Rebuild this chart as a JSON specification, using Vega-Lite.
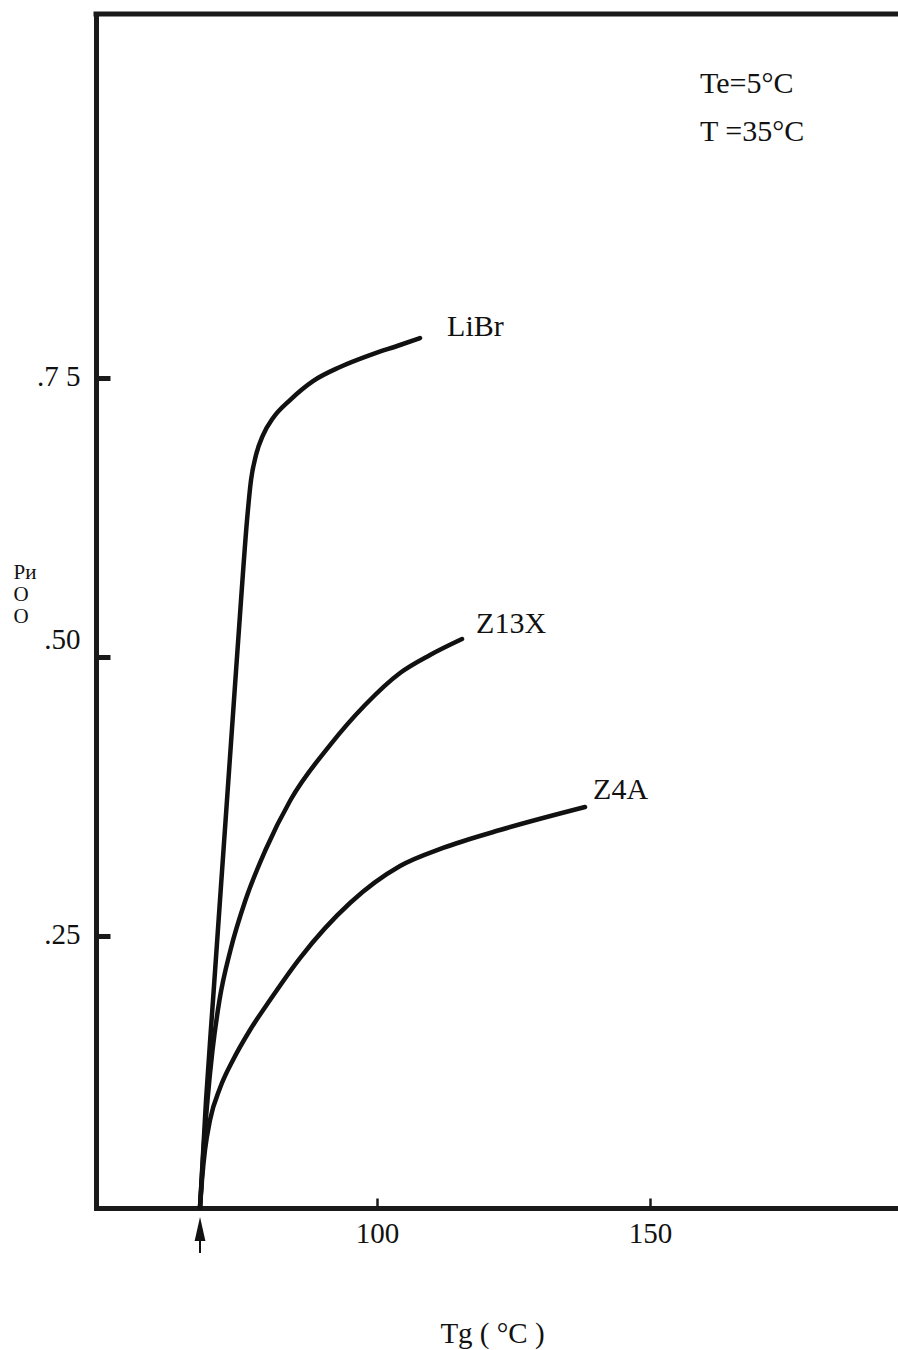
{
  "$schema": "https://vega.github.io/schema/vega-lite/v6.json",
  "width": 802,
  "height": 1194,
  "autosize": {"type": "none"},
  "padding": {"left": 96, "top": 14, "right": 0, "bottom": 142},
  "background": "white",
  "config": {"view": {"stroke": null}, "font": "Liberation Serif", "axis": {"grid": false}},
  "datasets": {
    "curves": [
      {"series": "LiBr", "tg": 67.58, "p": 0.007},
      {"series": "LiBr", "tg": 68.68, "p": 0.103},
      {"series": "LiBr", "tg": 69.96, "p": 0.1927},
      {"series": "LiBr", "tg": 71.24, "p": 0.2823},
      {"series": "LiBr", "tg": 72.52, "p": 0.3719},
      {"series": "LiBr", "tg": 73.80, "p": 0.4615},
      {"series": "LiBr", "tg": 75.09, "p": 0.5511},
      {"series": "LiBr", "tg": 76.19, "p": 0.6228},
      {"series": "LiBr", "tg": 76.92, "p": 0.6586},
      {"series": "LiBr", "tg": 77.83, "p": 0.681},
      {"series": "LiBr", "tg": 79.12, "p": 0.6989},
      {"series": "LiBr", "tg": 80.95, "p": 0.7142},
      {"series": "LiBr", "tg": 84.06, "p": 0.7303},
      {"series": "LiBr", "tg": 88.27, "p": 0.7473},
      {"series": "LiBr", "tg": 93.22, "p": 0.7599},
      {"series": "LiBr", "tg": 98.71, "p": 0.7706},
      {"series": "LiBr", "tg": 104.21, "p": 0.7796},
      {"series": "LiBr", "tg": 107.87, "p": 0.7858},
      {"series": "Z13X", "tg": 67.58, "p": 0.007},
      {"series": "Z13X", "tg": 68.22, "p": 0.0582},
      {"series": "Z13X", "tg": 68.95, "p": 0.103},
      {"series": "Z13X", "tg": 69.87, "p": 0.1478},
      {"series": "Z13X", "tg": 71.15, "p": 0.1927},
      {"series": "Z13X", "tg": 73.16, "p": 0.2375},
      {"series": "Z13X", "tg": 75.91, "p": 0.2823},
      {"series": "Z13X", "tg": 79.57, "p": 0.3271},
      {"series": "Z13X", "tg": 84.15, "p": 0.3719},
      {"series": "Z13X", "tg": 91.39, "p": 0.4211},
      {"series": "Z13X", "tg": 97.80, "p": 0.457},
      {"series": "Z13X", "tg": 104.21, "p": 0.4857},
      {"series": "Z13X", "tg": 109.70, "p": 0.5018},
      {"series": "Z13X", "tg": 115.56, "p": 0.5161},
      {"series": "Z4A", "tg": 67.58, "p": 0.007},
      {"series": "Z4A", "tg": 67.94, "p": 0.0314},
      {"series": "Z4A", "tg": 68.49, "p": 0.0582},
      {"series": "Z4A", "tg": 69.41, "p": 0.0851},
      {"series": "Z4A", "tg": 71.24, "p": 0.1138},
      {"series": "Z4A", "tg": 73.62, "p": 0.1389},
      {"series": "Z4A", "tg": 76.74, "p": 0.1658},
      {"series": "Z4A", "tg": 80.40, "p": 0.1927},
      {"series": "Z4A", "tg": 85.89, "p": 0.2303},
      {"series": "Z4A", "tg": 95.05, "p": 0.2796},
      {"series": "Z4A", "tg": 104.21, "p": 0.3127},
      {"series": "Z4A", "tg": 112.08, "p": 0.3289},
      {"series": "Z4A", "tg": 122.52, "p": 0.345},
      {"series": "Z4A", "tg": 138.09, "p": 0.3656}
    ],
    "labels": [
      {"tg": 112.82, "p": 0.7876, "text": "LiBr"},
      {"tg": 118.13, "p": 0.5215, "text": "Z13X"},
      {"tg": 139.56, "p": 0.3728, "text": "Z4A"},
      {"tg": 159.15, "p": 1.0054, "text": "Te=5°C"},
      {"tg": 159.15, "p": 0.9624, "text": "T =35°C"}
    ],
    "frame": [
      {"x1": 48.53, "x2": 195.4, "p": 1.0762}
    ],
    "arrow": [
      {"tg": 67.58, "head": -0.0125, "s1": -0.0224, "s2": -0.034}
    ]
  },
  "layer": [
    {
      "data": {"name": "curves"},
      "mark": {"type": "line", "interpolate": "monotone", "stroke": "#111111", "strokeWidth": 4.5, "strokeCap": "round"},
      "encoding": {
        "x": {
          "field": "tg", "type": "quantitative",
          "scale": {"domain": [48.53, 195.4], "nice": false, "zero": false},
          "axis": {
            "orient": "bottom", "values": [100, 150], "format": "d",
            "tickSize": -10, "tickWidth": 2.5, "tickColor": "#1a1a1a",
            "domainWidth": 5, "domainColor": "#1a1a1a", "domainCap": "square",
            "labelFont": "Liberation Serif", "labelFontSize": 29, "labelColor": "#111111",
            "labelBaseline": "alphabetic", "labelPadding": 44, "labelFlush": false, "labelOverlap": false,
            "title": "Tg ( °C )", "titleFont": "Liberation Serif", "titleFontSize": 29, "titleFontWeight": "normal",
            "titleColor": "#111111", "titleX": 396, "titleY": 134, "titleBaseline": "alphabetic", "titleAlign": "center"
          }
        },
        "y": {
          "field": "p", "type": "quantitative",
          "scale": {"domain": [0.0063, 1.0762], "nice": false, "zero": false},
          "axis": {
            "orient": "left", "values": [0.25, 0.5, 0.75],
            "labelExpr": "datum.value == 0.75 ? '.7 5' : (datum.value == 0.5 ? '.50' : '.25')",
            "tickSize": -14, "tickWidth": 5, "tickColor": "#1a1a1a",
            "domainWidth": 5, "domainColor": "#1a1a1a", "domainCap": "square",
            "labelFont": "Liberation Serif", "labelFontSize": 29, "labelColor": "#111111",
            "labelBaseline": "alphabetic", "labelPadding": 30, "labelOverlap": false, "labelFlush": false,
            "labelOffset": {"condition": {"test": "datum.value == 0.5", "value": -9}, "value": 7},
            "title": ["Pи", "O", "O"], "titleAngle": 0, "titleX": -83, "titleY": 564,
            "titleAlign": "left", "titleBaseline": "alphabetic", "titleFont": "Liberation Serif",
            "titleFontSize": 21, "titleFontWeight": "normal", "titleLineHeight": 22, "titleColor": "#111111"
          }
        },
        "detail": {"field": "series"}
      }
    },
    {
      "data": {"name": "frame"},
      "mark": {"type": "rule", "stroke": "#1a1a1a", "strokeWidth": 5, "strokeCap": "square"},
      "encoding": {
        "x": {"field": "x1", "type": "quantitative"},
        "x2": {"field": "x2"},
        "y": {"field": "p", "type": "quantitative"}
      }
    },
    {
      "data": {"name": "labels"},
      "mark": {"type": "text", "align": "left", "baseline": "alphabetic", "font": "Liberation Serif", "fontSize": 30, "color": "#111111"},
      "encoding": {
        "x": {"field": "tg", "type": "quantitative"},
        "y": {"field": "p", "type": "quantitative"},
        "text": {"field": "text"}
      }
    },
    {
      "data": {"name": "arrow"},
      "mark": {"type": "rule", "stroke": "#111111", "strokeWidth": 2},
      "encoding": {
        "x": {"field": "tg", "type": "quantitative"},
        "y": {"field": "s1", "type": "quantitative"},
        "y2": {"field": "s2"}
      }
    },
    {
      "data": {"name": "arrow"},
      "mark": {"type": "point", "shape": "M0,-1L0.45,1L-0.45,1Z", "filled": true, "color": "#111111", "opacity": 1, "size": 576},
      "encoding": {
        "x": {"field": "tg", "type": "quantitative"},
        "y": {"field": "head", "type": "quantitative"}
      }
    }
  ]
}
